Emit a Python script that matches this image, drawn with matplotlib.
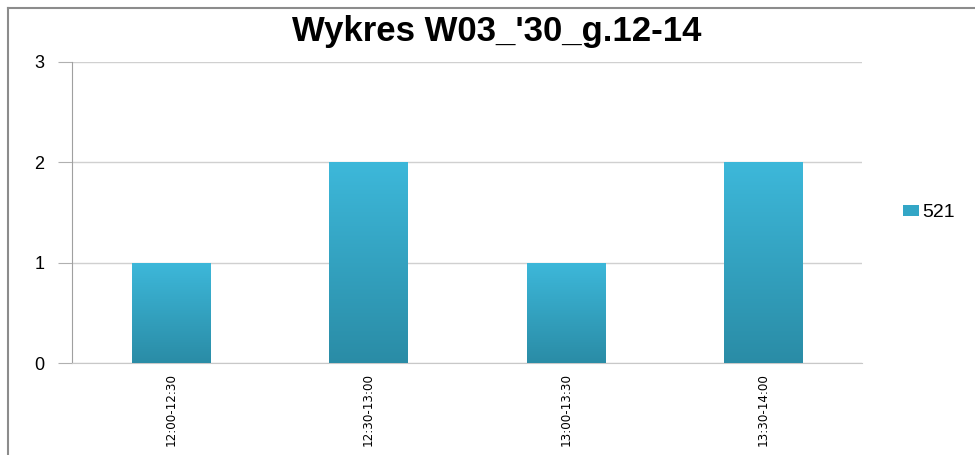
import numpy as np
import matplotlib
matplotlib.use("Agg")
import matplotlib.pyplot as plt
from matplotlib.colors import LinearSegmentedColormap
from matplotlib.lines import Line2D

categories = ["12:00-12:30", "12:30-13:00", "13:00-13:30", "13:30-14:00"]
values = [1, 2, 1, 2]
series_name = "521"
title = "Wykres W03_'30_g.12-14"

plt.rcParams['font.family'] = ['Liberation Sans', 'DejaVu Sans']

fig = plt.figure(figsize=(9.75, 4.55), dpi=100)
ax = fig.add_axes([72/975, 1 - 363/455, 790/975, 301/455])

# outer chart frame (only left and top edges visible)
fig.lines.append(Line2D([7.5/975, 7.5/975], [0, 1 - 7.5/455], transform=fig.transFigure,
                        color="#8c8c8c", linewidth=1.5))
fig.lines.append(Line2D([7.5/975, 1], [1 - 7.5/455, 1 - 7.5/455], transform=fig.transFigure,
                        color="#8c8c8c", linewidth=1.5))

grad = LinearSegmentedColormap.from_list("g", ["#2a8ca6", "#3db8da"])
x = np.arange(len(categories))
bars = ax.bar(x, values, width=0.395, color="#33a6c6", zorder=2, label=series_name)
ramp = np.linspace(0, 1, 256).reshape(-1, 1)
for b in bars:
    im = ax.imshow(ramp, cmap=grad, origin="lower", aspect="auto", zorder=3,
                   extent=[b.get_x(), b.get_x() + b.get_width(), 0, b.get_height()])
    im.set_clip_path(b)

ax.set_xlim(-0.5, len(categories) - 0.5)
ax.set_ylim(0, 3)
ax.set_yticks([0, 1, 2, 3])
ax.yaxis.grid(True, color="#d0d0d0", linewidth=1, zorder=0)
ax.set_xticks(x)
ax.set_xticklabels(categories, rotation=90, fontsize=9.5,
                   family=['DejaVu Sans'], fontstretch='condensed')
ax.tick_params(axis="x", length=0, pad=7)
ax.tick_params(axis="y", length=10, color="#b0b0b0", labelsize=13, pad=10)

for s in ["top", "right"]:
    ax.spines[s].set_visible(False)
ax.spines["left"].set_color("#a0a0a0")
ax.spines["bottom"].set_color("#c8c8c8")

fig.text(497/975, 1 - 32/455, title, ha="center", va="center",
         fontsize=25, fontweight="bold")

ax.legend(loc="center left", bbox_to_anchor=(1.03, 0.5), frameon=False,
          handlelength=0.8, handleheight=0.5, handletextpad=0.2, fontsize=14)

fig.savefig("out.png", dpi=100)
